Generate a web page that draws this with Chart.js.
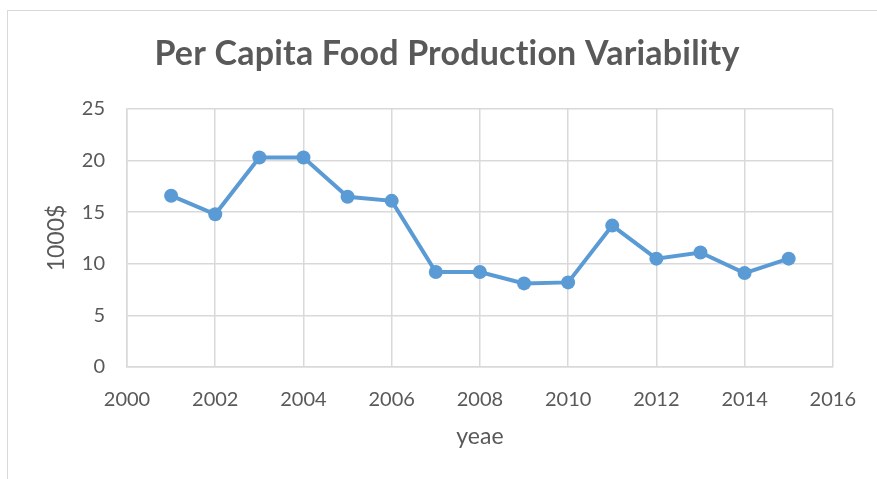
<!DOCTYPE html>
<html>
<head>
<meta charset="utf-8">
<script src="https://cdn.jsdelivr.net/npm/chart.js@4"></script>
<style>
  html, body { margin: 0; padding: 0; background: #ffffff; overflow: hidden; }
  #wrap { position: relative; width: 877px; height: 479px; }
  #frame { position: absolute; left: 7px; top: 10px; width: 900px; height: 500px;
           border: 1.5px solid #d9d9d9; box-sizing: border-box; }
  canvas { position: absolute; left: 0; top: 0; }
</style>
</head>
<body>
<div id="wrap">
  <div id="frame"></div>
  <canvas id="chart" width="877" height="479"></canvas>
</div>
<script>
// Per capita food production variability, thousands of dollars per year
const years  = [2001, 2002, 2003, 2004, 2005, 2006, 2007, 2008, 2009, 2010, 2011, 2012, 2013, 2014, 2015];
const values = [16.6, 14.8, 20.3, 20.3, 16.5, 16.1, 9.2, 9.2, 8.1, 8.2, 13.7, 10.5, 11.1, 9.1, 10.5];
const xTicks = [2000, 2002, 2004, 2006, 2008, 2010, 2012, 2014, 2016];
const yTicks = [0, 5, 10, 15, 20, 25];

const chartTitle = 'Per Capita Food Production Variability';
const xTitle = 'yeae';
const yTitle = '1000$';

const TEXT = '#595959';
const GRID = '#d9d9d9';
const BLUE = '#5b9bd5';
const FONT = 'Lato, "Open Sans", sans-serif';

// Title centred over the whole framed chart
const titlePlugin = {
  id: 'centredTitle',
  afterDraw(chart) {
    const ctx = chart.ctx;
    ctx.save();
    ctx.font = 'bold 34px ' + FONT;
    if ('letterSpacing' in ctx) ctx.letterSpacing = '0.2px';
    ctx.fillStyle = TEXT;
    ctx.textAlign = 'center';
    ctx.textBaseline = 'alphabetic';
    ctx.fillText(chartTitle, 447, 65);
    ctx.restore();
  }
};

new Chart(document.getElementById('chart'), {
  type: 'line',
  data: {
    datasets: [{
      data: years.map((y, i) => ({ x: y, y: values[i] })),
      borderColor: BLUE,
      backgroundColor: BLUE,
      borderWidth: 4,
      pointRadius: 7,
      pointHoverRadius: 7,
      pointBorderWidth: 0,
      tension: 0
    }]
  },
  options: {
    responsive: false,
    animation: false,
    layout: { padding: { top: 109, right: 44, left: 0, bottom: 0 } },
    plugins: { legend: { display: false }, tooltip: { enabled: false }, title: { display: false } },
    scales: {
      x: {
        type: 'linear',
        min: xTicks[0],
        max: xTicks[xTicks.length - 1],
        afterBuildTicks(scale) { scale.ticks = xTicks.map(v => ({ value: v })); },
        afterFit(scale) { scale.height = 112; },
        grid: { color: GRID, lineWidth: 1.5, drawTicks: false },
        border: { color: GRID, width: 1.5 },
        ticks: {
          color: TEXT, font: { family: FONT, size: 20 }, padding: 21,
          maxRotation: 0, autoSkip: false,
          callback: v => String(v)
        },
        title: {
          display: true, text: xTitle, color: TEXT,
          font: { family: FONT, size: 23 }, padding: { top: 29, bottom: 29 }
        }
      },
      y: {
        min: yTicks[0],
        max: yTicks[yTicks.length - 1],
        afterBuildTicks(scale) { scale.ticks = yTicks.map(v => ({ value: v })); },
        afterFit(scale) { scale.width = 127; },
        grid: { color: GRID, lineWidth: 1.5, drawTicks: false },
        border: { color: GRID, width: 1.5 },
        ticks: {
          color: TEXT, font: { family: FONT, size: 20 }, padding: 22,
          callback: v => String(v)
        },
        title: {
          display: true, text: yTitle, color: TEXT,
          font: { family: FONT, size: 23 }, padding: { top: 43, bottom: 43 }
        }
      }
    }
  },
  plugins: [titlePlugin]
});
</script>
</body>
</html>
